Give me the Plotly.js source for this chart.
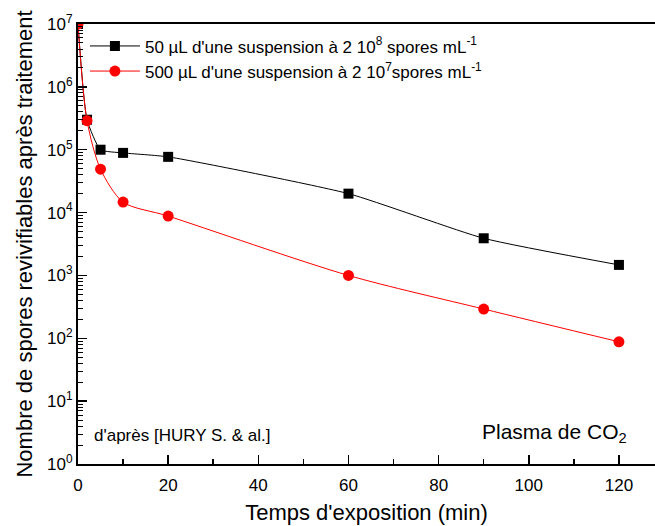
<!DOCTYPE html>
<html>
<head>
<meta charset="utf-8">
<script src="https://cdn.plot.ly/plotly-3.0.1.min.js"></script>
<style>html,body{margin:0;padding:0;background:#fff;}#chart{width:655px;height:526px;}</style>
</head>
<body>
<div id="chart"></div>
<script>
const timeMin = [0, 2, 5, 10, 20, 60, 90, 120];
const spores50uL = [1e7, 3e5, 1e5, 8.9e4, 7.7e4, 2.0e4, 3.9e3, 1.47e3];
const spores500uL = [1e7, 2.9e5, 4.9e4, 1.47e4, 8.8e3, 1.0e3, 292, 88];
const seriesNames = [
  "50 µL d'une suspension à 2 10<sup>8</sup> spores mL<sup>-1</sup>",
  "500 µL d'une suspension à 2 10<sup>7</sup>spores mL<sup>-1</sup>"
];
const xTickVals = [0, 20, 40, 60, 80, 100, 120];
const yDecades = [0, 1, 2, 3, 4, 5, 6, 7];

const yTickVals = yDecades.map(d => Math.pow(10, d));
const yTickText = yDecades.map(d => '10<sup>' + d + '</sup>');
const yMinor = [];
yDecades.slice(0, -1).forEach(d => { for (let k = 2; k <= 9; k++) yMinor.push(k * Math.pow(10, d)); });

const font = "'Liberation Sans', Arial, sans-serif";

const traces = [
  {x: timeMin, y: spores50uL, name: seriesNames[0], mode: 'lines+markers',
   line: {color: '#000000', width: 1, shape: 'spline', smoothing: 0.5},
   marker: {symbol: 'square', size: 10, color: '#000000'}},
  {x: timeMin, y: spores500uL, name: seriesNames[1], mode: 'lines+markers',
   line: {color: '#ff0000', width: 1, shape: 'spline', smoothing: 0.8},
   marker: {symbol: 'circle', size: 11, color: '#ff0000'}}
];

const layout = {
  width: 655, height: 526,
  margin: {l: 78, r: 0, t: 24, b: 62},
  paper_bgcolor: '#ffffff', plot_bgcolor: '#ffffff',
  font: {family: font, color: '#000000', size: 17},
  showlegend: true,
  legend: {x: 0.012, y: 0.99, xanchor: 'left', yanchor: 'top', bgcolor: 'rgba(0,0,0,0)',
           font: {size: 17, family: font}, tracegroupgap: 0, itemwidth: 50},
  xaxis: {
    range: [0, 128], showgrid: false, zeroline: false,
    showline: true, linecolor: '#000', linewidth: 2, mirror: true,
    ticks: 'inside', ticklen: 9, tickwidth: 1.5, tickcolor: '#000',
    tickvals: xTickVals, ticktext: xTickVals.map(String),
    tickfont: {size: 17, family: font}, ticklabelstandoff: 5,
    minor: {tickvals: [10, 30, 50, 70, 90, 110], ticks: 'inside', ticklen: 5, tickwidth: 1.5, tickcolor: '#000'},
    title: {text: "Temps d'exposition (min)", font: {size: 22, family: font}, standoff: 10}
  },
  yaxis: {
    type: 'log', range: [0, 7], showgrid: false, zeroline: false,
    showline: true, linecolor: '#000', linewidth: 2,
    ticks: 'inside', ticklen: 9, tickwidth: 1.5, tickcolor: '#000',
    tickvals: yTickVals, ticktext: yTickText,
    tickfont: {size: 17, family: font},
    minor: {tickvals: yMinor, ticks: 'inside', ticklen: 5, tickwidth: 1, tickcolor: '#000'},
    title: {text: 'Nombre de spores revivifiables après traitement', font: {size: 22, family: font}, standoff: 8}
  },
  annotations: [
    {xref: 'paper', yref: 'paper', x: 0.025, y: 0.065, xanchor: 'left', yanchor: 'middle',
     text: "d'après [HURY S. & al.]", showarrow: false, font: {size: 17, family: font}},
    {xref: 'paper', yref: 'paper', x: 0.955, y: 0.07, xanchor: 'right', yanchor: 'middle',
     text: 'Plasma de CO<sub>2</sub>', showarrow: false, font: {size: 21, family: font}}
  ]
};

Plotly.newPlot('chart', traces, layout, {staticPlot: true, displayModeBar: false});
</script>
</body>
</html>
